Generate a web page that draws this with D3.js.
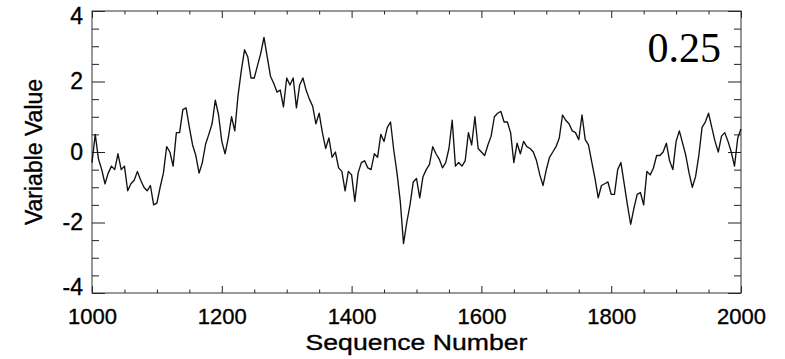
<!DOCTYPE html>
<html>
<head>
<meta charset="utf-8">
<script src="https://cdn.jsdelivr.net/npm/d3@7"></script>
<style>
    body { margin: 0; background: #fff; }
    text { font-family: "Liberation Sans", Arial, sans-serif; }
</style>
</head>
<body>
<div id="chart"></div>
<script>
// sequence numbers run 1000..2000, one reading every 5
var seqStart = 1000;
var seqStep = 5;

var values = [
    -0.3, 0.5, -0.2, -0.5, -0.9, -0.6, -0.4, -0.5, -0.05, -0.5,
    -0.4, -1.1, -0.9, -0.8, -0.55, -0.8, -1.0, -1.1, -0.95, -1.5,
    -1.45, -1.0, -0.6, 0.15, 0.0, -0.4, 0.55, 0.55, 1.2, 1.25,
    0.7, 0.2, -0.1, -0.6, -0.3, 0.22, 0.5, 0.8, 1.47, 1.05,
    0.3, -0.05, 0.4, 1.0, 0.6, 1.6, 2.3, 2.9, 2.7, 2.1,
    2.1, 2.45, 2.8, 3.25, 2.7, 2.15, 1.95, 1.7, 1.76, 1.28,
    2.1, 1.9, 2.1, 1.25, 1.9, 2.1, 1.75, 1.5, 1.3, 0.8,
    1.1, 0.55, 0.1, 0.4, -0.15, 0.0, -0.45, -0.55, -1.1, -0.55,
    -0.65, -1.4, -0.6, -0.3, -0.25, -0.45, -0.5, -0.05, -0.15, 0.5,
    0.3, 0.7, 0.85, 0.05, -0.6, -1.4, -2.6, -2.0, -1.5, -0.85,
    -0.75, -1.3, -0.7, -0.5, -0.35, 0.15, -0.05, -0.2, -0.45, -0.3,
    0.1, 0.9, -0.4, -0.3, -0.4, -0.25, 0.55, 0.2, 1.0, 0.1,
    0.0, -0.1, 0.2, 0.45, 1.0, 1.1, 1.15, 0.85, 0.85, 0.55,
    -0.3, 0.25, -0.05, 0.3, 0.15, 0.1, 0.0, -0.25, -0.65, -0.95,
    -0.5, -0.15, 0.0, 0.15, 0.4, 1.05, 0.9, 0.8, 0.6, 0.55,
    0.35, 1.05, 0.35, 0.2, -0.28, -0.75, -1.3, -0.95, -0.9, -0.85,
    -1.2, -1.2, -0.5, -0.3, -0.9, -1.5, -2.05, -1.6, -1.2, -1.15,
    -1.5, -0.55, -0.65, -0.46, -0.1, -0.1, 0.0, 0.25, -0.25, -0.5,
    0.3, 0.6, 0.25, -0.1, -0.6, -1.0, -0.7, -0.1, 0.7, 0.85,
    1.1, 0.7, 0.3, 0.0, 0.45, 0.55, 0.3, 0.0, -0.4, 0.4,
    0.65
];

var xMajorTicks = [1000, 1200, 1400, 1600, 1800, 2000];
var yMajorTicks = [-4, -2, 0, 2, 4];
var cornerLabel = '0.25';
var xTitle = 'Sequence Number';
var yTitle = 'Variable Value';

var W = 785, H = 359;
var margin = { top: 11, right: 44, bottom: 66, left: 92 };
var width = W - margin.left - margin.right;
var height = H - margin.top - margin.bottom;
var labelFont = '"Liberation Sans", Arial, sans-serif';

var svg = d3.select( '#chart' ).append( 'svg' )
    .attr( 'width', W )
    .attr( 'height', H );

var g = svg.append( 'g' )
    .attr( 'transform', `translate(${margin.left},${margin.top})` );

var x = d3.scaleLinear().domain( [1000, 2000] ).range( [0, width] );
var y = d3.scaleLinear().domain( [-4, 4] ).range( [height, 0] );

var xMinor = d3.range( 1000, 2001, 50 ).filter( d => xMajorTicks.indexOf( d ) < 0 );
var yMinor = d3.range( -4, 4.01, 0.5 ).filter( d => yMajorTicks.indexOf( d ) < 0 );

function styleAxis( sel ) {
    sel.select( '.domain' ).remove();
    sel.selectAll( 'line' ).attr( 'stroke', '#222' ).attr( 'stroke-width', 1 );
}

// plain hyphen for negatives, like the original
var fmt = d => String( d );

// minor ticks, all four sides, pointing inward
g.append( 'g' ).attr( 'transform', `translate(0,${height})` )
    .call( d3.axisBottom( x ).tickValues( xMinor ).tickSize( -3.5 ).tickFormat( '' ) ).call( styleAxis );
g.append( 'g' )
    .call( d3.axisTop( x ).tickValues( xMinor ).tickSize( -3.5 ).tickFormat( '' ) ).call( styleAxis );
g.append( 'g' )
    .call( d3.axisLeft( y ).tickValues( yMinor ).tickSize( -7 ).tickFormat( '' ) ).call( styleAxis );
g.append( 'g' ).attr( 'transform', `translate(${width},0)` )
    .call( d3.axisRight( y ).tickValues( yMinor ).tickSize( -7 ).tickFormat( '' ) ).call( styleAxis );

// major ticks
var xAxis = g.append( 'g' ).attr( 'transform', `translate(0,${height})` )
    .call( d3.axisBottom( x ).tickValues( xMajorTicks ).tickSize( -7 ).tickPadding( 15 ).tickFormat( fmt ) )
    .call( styleAxis );
g.append( 'g' )
    .call( d3.axisTop( x ).tickValues( xMajorTicks ).tickSize( -7 ).tickFormat( '' ) ).call( styleAxis );
var yAxis = g.append( 'g' )
    .call( d3.axisLeft( y ).tickValues( yMajorTicks ).tickSize( -13 ).tickPadding( 9 ).tickFormat( fmt ) )
    .call( styleAxis );
g.append( 'g' ).attr( 'transform', `translate(${width},0)` )
    .call( d3.axisRight( y ).tickValues( yMajorTicks ).tickSize( -13 ).tickFormat( '' ) ).call( styleAxis );

xAxis.selectAll( 'text' )
    .attr( 'fill', '#000' ).attr( 'stroke', '#000' ).attr( 'stroke-width', 0.35 )
    .style( 'font-size', '22px' ).style( 'font-family', labelFont );
yAxis.selectAll( 'text' )
    .attr( 'fill', '#000' ).attr( 'stroke', '#000' ).attr( 'stroke-width', 0.35 )
    .style( 'font-size', '23px' ).style( 'font-family', labelFont )
    .attr( 'y', d => d === 4 ? 5 : ( d === -4 ? -6 : 0 ) );

// frame
g.append( 'rect' )
    .attr( 'width', width ).attr( 'height', height )
    .attr( 'fill', 'none' ).attr( 'stroke', '#333' ).attr( 'stroke-width', 1 );

// series
var line = d3.line()
    .x( ( d, i ) => x( seqStart + i * seqStep ) )
    .y( d => y( d ) );

g.append( 'path' )
    .datum( values )
    .attr( 'd', line )
    .attr( 'fill', 'none' )
    .attr( 'stroke', '#111' )
    .attr( 'stroke-width', 1.35 )
    .attr( 'stroke-linejoin', 'round' );

// corner annotation
g.append( 'text' )
    .attr( 'x', 629 ).attr( 'y', 51 )
    .attr( 'text-anchor', 'end' )
    .style( 'font-family', '"Liberation Serif", "Times New Roman", serif' )
    .style( 'font-size', '42px' )
    .text( cornerLabel );

// titles (the original lettering is a bit wider than Arial)
svg.append( 'text' )
    .attr( 'transform', `translate(${margin.left + width / 2},350) scale(1.21,1)` )
    .attr( 'text-anchor', 'middle' )
    .attr( 'stroke', '#000' ).attr( 'stroke-width', 0.35 )
    .style( 'font-size', '22px' )
    .text( xTitle );

svg.append( 'text' )
    .attr( 'transform', `translate(42,${margin.top + height / 2}) rotate(-90)` )
    .attr( 'text-anchor', 'middle' )
    .attr( 'stroke', '#000' ).attr( 'stroke-width', 0.35 )
    .style( 'font-size', '23px' )
    .text( yTitle );
</script>
</body>
</html>
